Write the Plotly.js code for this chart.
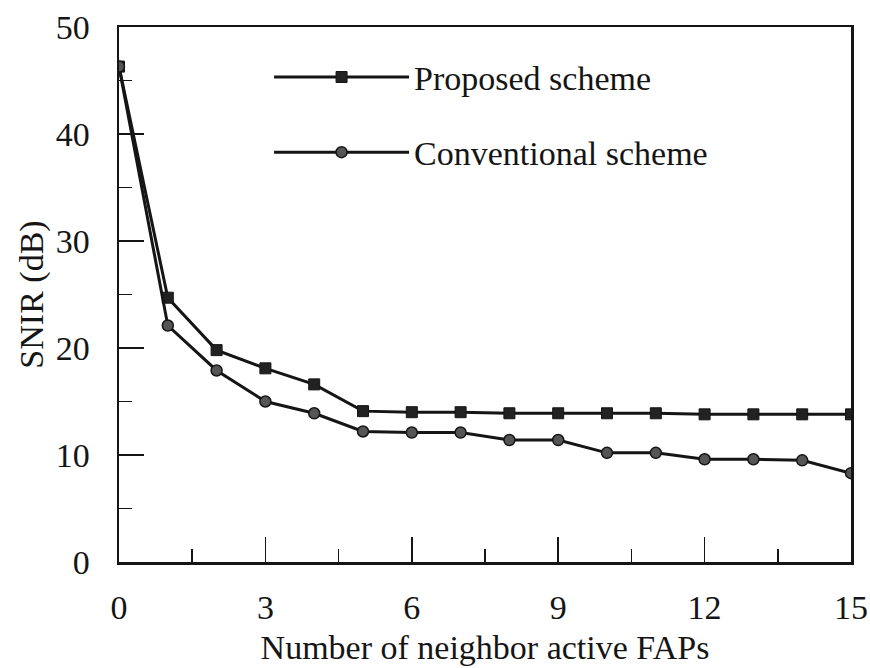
<!DOCTYPE html>
<html>
<head>
<meta charset="utf-8">
<script src="https://cdn.plot.ly/plotly-3.0.1.min.js"></script>
<style>html,body{margin:0;padding:0;background:#fff;}#chart{width:870px;height:668px;}</style>
</head>
<body>
<div id="chart"></div>
<script>
const neighbors = [0,1,2,3,4,5,6,7,8,9,10,11,12,13,14,15];
const proposed = [46.3,24.7,19.8,18.1,16.6,14.1,14.0,14.0,13.9,13.9,13.9,13.9,13.8,13.8,13.8,13.8];
const conventional = [46.3,22.1,17.9,15.0,13.9,12.2,12.1,12.1,11.4,11.4,10.2,10.2,9.6,9.6,9.5,8.3];
const seriesNames = ["Proposed scheme","Conventional scheme"];
const xTicks = [0,3,6,9,12,15];
const yTicks = [0,10,20,30,40,50];

const ink = "#151515";
const font = {family: "Liberation Serif, Times New Roman, serif", size: 34, color: ink};

const traces = [
  {x: neighbors, y: proposed, name: seriesNames[0], legendgroup: "a", mode: "lines+markers",
   line: {color: ink, width: 3},
   marker: {symbol: "square", size: 11, color: "#222", line: {color: ink, width: 1}}},
  {x: neighbors, y: conventional, name: seriesNames[1], legendgroup: "b", mode: "lines+markers",
   line: {color: ink, width: 3},
   marker: {symbol: "circle", size: 11, color: "#555", line: {color: ink, width: 1.5}}}
];

const layout = {
  width: 870, height: 668,
  margin: {l: 119, r: 19, t: 27, b: 106},
  paper_bgcolor: "#fff", plot_bgcolor: "#fff",
  font: font,
  showlegend: true,
  legend: {x: 0.205, y: 0.96, xanchor: "left", yanchor: "top",
           bgcolor: "rgba(0,0,0,0)", font: font, itemwidth: 135, tracegroupgap: 28},
  xaxis: {
    range: [0, 15], tickvals: xTicks, ticktext: xTicks.map(String),
    showgrid: false, zeroline: false,
    showline: true, linecolor: ink, linewidth: 2.5, mirror: true,
    ticks: "inside", ticklen: 25, tickwidth: 1.5, tickcolor: ink,
    minor: {dtick: 1.5, tick0: 0, ticks: "inside", ticklen: 13, tickwidth: 1.5, tickcolor: ink, showgrid: false},
    ticklabelstandoff: 14,
    tickfont: font,
    title: {text: "Number of neighbor active FAPs", font: font, standoff: 10}
  },
  yaxis: {
    range: [0, 50], tickvals: yTicks, ticktext: yTicks.map(String),
    showgrid: false, zeroline: false,
    showline: true, linecolor: ink, linewidth: 2.5, mirror: true,
    ticks: "inside", ticklen: 25, tickwidth: 1.5, tickcolor: ink,
    minor: {dtick: 5, tick0: 0, ticks: "inside", ticklen: 13, tickwidth: 1.5, tickcolor: ink, showgrid: false},
    ticklabelstandoff: 20,
    tickfont: font,
    title: {text: "SNIR (dB)", font: font, standoff: 2}
  }
};

Plotly.newPlot("chart", traces, layout, {displayModeBar: false, staticPlot: true});
</script>
</body>
</html>
